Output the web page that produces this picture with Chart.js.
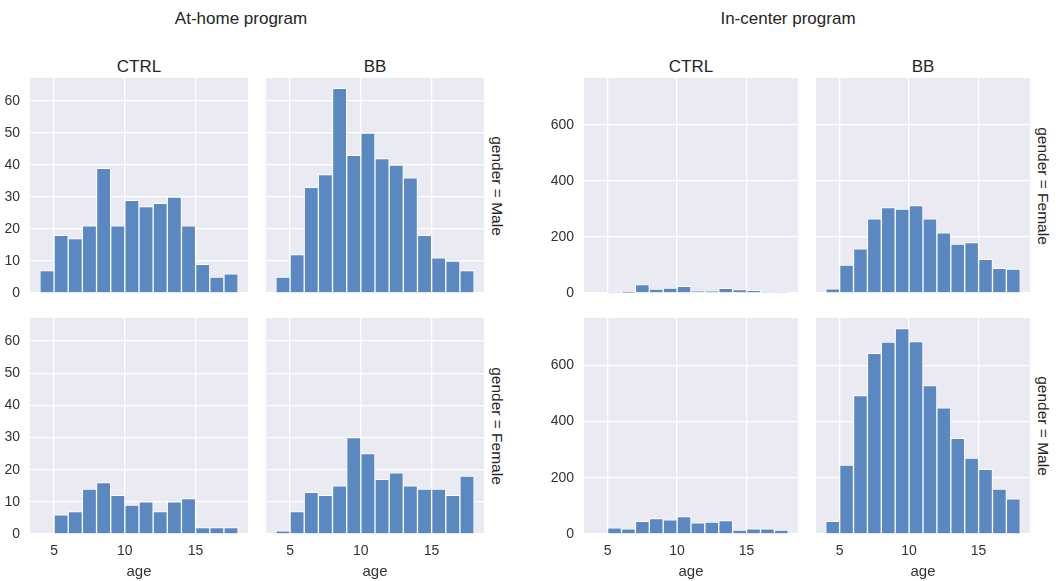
<!DOCTYPE html>
<html>
<head>
<meta charset="utf-8">
<script src="https://cdn.jsdelivr.net/npm/chart.js@4/dist/chart.umd.min.js"></script>
<style>
  html, body { margin: 0; padding: 0; background: #ffffff; }
  #wrap { position: relative; width: 1056px; height: 581px; overflow: hidden; font-family: "Liberation Sans", Arial, sans-serif; color: #262626; }
  canvas { position: absolute; left: 0; top: 0; }
  .txt { position: absolute; white-space: nowrap; transform: translate(-50%, -50%); line-height: 1; }
  .sup { font-size: 17px; }
  .col { font-size: 17px; }
  .row { font-size: 15.5px; transform: translate(-50%, -50%) rotate(90deg); }
</style>
</head>
<body>
<div id="wrap">
  <div class="txt sup" style="left:241px; top:18px;">At-home program</div>
  <div class="txt sup" style="left:788px; top:18px;">In-center program</div>
  <div class="txt col" style="left:139px; top:66px;">CTRL</div>
  <div class="txt col" style="left:375px; top:66px;">BB</div>
  <div class="txt col" style="left:691px; top:66px;">CTRL</div>
  <div class="txt col" style="left:923px; top:66px;">BB</div>
  <div class="txt row" style="left:497px; top:186px;">gender = Male</div>
  <div class="txt row" style="left:497px; top:426px;">gender = Female</div>
  <div class="txt row" style="left:1043px; top:186px;">gender = Female</div>
  <div class="txt row" style="left:1043px; top:426px;">gender = Male</div>
</div>
<script>
// ---- data ----
const ageBins = [4, 5, 6, 7, 8, 9, 10, 11, 12, 13, 14, 15, 16, 17]; // left edges, bin width 1
const xTicks = [5, 10, 15];
const yTicksHome = [0, 10, 20, 30, 40, 50, 60];
const yTicksCenter = [0, 200, 400, 600];

const homeMaleCtrl     = [7, 18, 17, 21, 39, 21, 29, 27, 28, 30, 21, 9, 5, 6];
const homeMaleBB       = [5, 12, 33, 37, 64, 43, 50, 42, 40, 36, 18, 11, 10, 7];
const homeFemaleCtrl   = [0, 6, 7, 14, 16, 12, 9, 10, 7, 10, 11, 2, 2, 2];
const homeFemaleBB     = [1, 7, 13, 12, 15, 30, 25, 17, 19, 15, 14, 14, 12, 18];
const centerFemaleCtrl = [0, 3, 1, 30, 14, 18, 24, 6, 6, 17, 12, 9, 3, 3];
const centerFemaleBB   = [15, 100, 158, 265, 305, 300, 312, 265, 215, 175, 180, 120, 88, 85];
const centerMaleCtrl   = [0, 22, 18, 45, 55, 50, 62, 40, 42, 48, 14, 18, 18, 14];
const centerMaleBB     = [45, 245, 492, 642, 682, 730, 684, 528, 449, 340, 270, 230, 160, 125];

// ---- layout ----
const W = 1056, H = 581;
const BAR = '#5b88c1';
const BG = '#eaeaf2';
const FONT = '"Liberation Sans", Arial, sans-serif';

const bgPlugin = {
  id: 'panelBg',
  beforeDraw(chart) {
    const a = chart.chartArea, ctx = chart.ctx;
    ctx.save();
    ctx.fillStyle = BG;
    ctx.fillRect(a.left, a.top, a.right - a.left, a.bottom - a.top);
    ctx.restore();
  }
};

function panel(values, yTicks, yMax, rect, showY, showX) {
  const c = document.createElement('canvas');
  c.width = W; c.height = H;
  c.style.width = W + 'px'; c.style.height = H + 'px';
  document.getElementById('wrap').appendChild(c);
  const yw = showY ? 40 : 0;
  const xh = showX ? 47 : 0;
  new Chart(c, {
    type: 'bar',
    data: {
      datasets: [{
        data: ageBins.map((a, i) => ({ x: a + 0.5, y: values[i] })),
        backgroundColor: BAR,
        borderColor: '#ffffff',
        borderWidth: 1,
        barPercentage: 1,
        categoryPercentage: 1
      }]
    },
    options: {
      responsive: false,
      animation: false,
      devicePixelRatio: 1,
      layout: { padding: { left: rect.L - yw, right: W - rect.R, top: rect.T, bottom: H - rect.B - xh } },
      plugins: { legend: { display: false }, tooltip: { enabled: false }, title: { display: false } },
      scales: {
        x: {
          type: 'linear', min: 3.3, max: 18.7, offset: false,
          afterBuildTicks: s => { s.ticks = xTicks.map(v => ({ value: v })); },
          afterFit: s => { s.height = xh; },
          grid: { color: '#ffffff', lineWidth: 1.3, drawTicks: false, offset: false },
          border: { display: false },
          ticks: { display: showX, padding: 9, color: '#333333', font: { family: FONT, size: 14 }, maxRotation: 0 },
          title: { display: showX, text: 'age', color: '#333333', font: { family: FONT, size: 15 }, padding: 0 }
        },
        y: {
          type: 'linear', min: 0, max: yMax,
          afterBuildTicks: s => { s.ticks = yTicks.map(v => ({ value: v })); },
          afterFit: s => { s.width = yw; },
          grid: { color: '#ffffff', lineWidth: 1.3, drawTicks: false },
          border: { display: false },
          ticks: { display: showY, padding: 10, color: '#333333', font: { family: FONT, size: 14 } }
        }
      }
    },
    plugins: [bgPlugin]
  });
}

const HOME_MAX = 67.2, CENTER_MAX = 768;
const rowTop = { T: 78, B: 293 }, rowBot = { T: 318, B: 534 };
const cols = [{ L: 30, R: 248 }, { L: 266, R: 484 }, { L: 584, R: 798 }, { L: 816, R: 1030 }];
const rect = (c, row) => ({ L: c.L, R: c.R, T: row.T, B: row.B });

panel(homeMaleCtrl,     yTicksHome,   HOME_MAX,   rect(cols[0], rowTop), true,  false);
panel(homeMaleBB,       yTicksHome,   HOME_MAX,   rect(cols[1], rowTop), false, false);
panel(homeFemaleCtrl,   yTicksHome,   HOME_MAX,   rect(cols[0], rowBot), true,  true);
panel(homeFemaleBB,     yTicksHome,   HOME_MAX,   rect(cols[1], rowBot), false, true);
panel(centerFemaleCtrl, yTicksCenter, CENTER_MAX, rect(cols[2], rowTop), true,  false);
panel(centerFemaleBB,   yTicksCenter, CENTER_MAX, rect(cols[3], rowTop), false, false);
panel(centerMaleCtrl,   yTicksCenter, CENTER_MAX, rect(cols[2], rowBot), true,  true);
panel(centerMaleBB,     yTicksCenter, CENTER_MAX, rect(cols[3], rowBot), false, true);
</script>
</body>
</html>
